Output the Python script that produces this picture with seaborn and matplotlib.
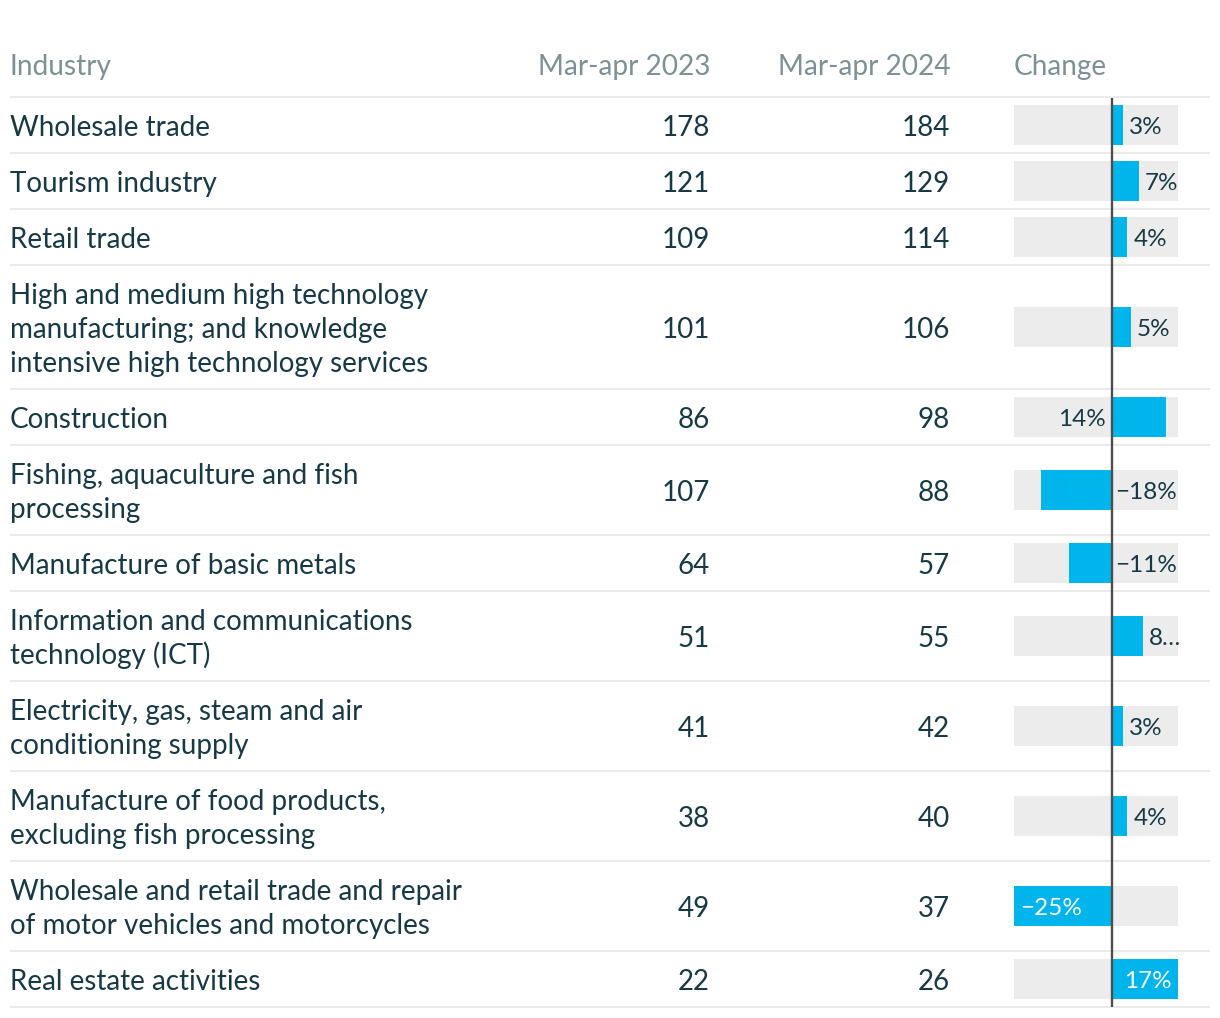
import matplotlib
matplotlib.use("Agg")
import matplotlib.pyplot as plt
import matplotlib.transforms as mtransforms
import seaborn as sns
import numpy as np

# table data
headers = ["Industry", "Mar-apr 2023", "Mar-apr 2024", "Change"]
industries = [
    "Wholesale trade",
    "Tourism industry",
    "Retail trade",
    "High and medium high technology\nmanufacturing; and knowledge\nintensive high technology services",
    "Construction",
    "Fishing, aquaculture and fish\nprocessing",
    "Manufacture of basic metals",
    "Information and communications\ntechnology (ICT)",
    "Electricity, gas, steam and air\nconditioning supply",
    "Manufacture of food products,\nexcluding fish processing",
    "Wholesale and retail trade and repair\nof motor vehicles and motorcycles",
    "Real estate activities",
]
values_2023 = [178, 121, 109, 101, 86, 107, 64, 51, 41, 38, 49, 22]
values_2024 = [184, 129, 114, 106, 98, 88, 57, 55, 42, 40, 37, 26]
change_pct = [3, 7, 4, 5, 14, -18, -11, 8, 3, 4, -25, 17]
change_labels = ["3%", "7%", "4%", "5%", "14%", "\u221218%", "\u221211%", "8\u2026",
                 "3%", "4%", "\u221225%", "17%"]
# where each bar label sits: after the bar end, across the zero line, or inside
label_side = ["end", "end", "end", "end", "zero", "zero", "zero", "end",
              "end", "end", "inside", "inside"]

DARK = "#163945"
GREY_TXT = "#7c9197"
BLUE = "#00b4ec"
BG = "#ececec"
RULE = "#ebebeb"

sns.set_theme(style="white")
plt.rcParams["font.family"] = ["Lato", "DejaVu Sans"]

W, H = 1220, 1018
fig = plt.figure(figsize=(W / 100, H / 100), dpi=100)
ax = fig.add_axes([0, 0, 1, 1])
ax.set_xlim(0, W)
ax.set_ylim(H, 0)
ax.axis("off")

# row layout (pixels)
top = 97
line_h = 34
n_lines = [s.count("\n") + 1 for s in industries]
heights = [22 + line_h * n for n in n_lines]
edges = np.concatenate([[top], top + np.cumsum(heights)])
centers = (edges[:-1] + edges[1:]) / 2

fs = 20.0
hfs = 20.2
col_2023 = 710
col_2024 = 950
bar_left, bar_right = 1014, 1178
base = 11

ax.text(10, 64 + base, headers[0], fontsize=hfs, color=GREY_TXT, ha="left", va="baseline")
ax.text(col_2023, 64 + base, headers[1], fontsize=hfs, color=GREY_TXT, ha="right", va="baseline")
ax.text(col_2024, 64 + base, headers[2], fontsize=hfs, color=GREY_TXT, ha="right", va="baseline")
ax.text(bar_left, 64 + base, headers[3], fontsize=hfs, color=GREY_TXT, ha="left", va="baseline")

ax.hlines(edges, 10, 1210, color=RULE, lw=1.5)

for i, name in enumerate(industries):
    lines = name.split("\n")
    n = len(lines)
    for k, ln in enumerate(lines):
        y = centers[i] + (k - (n - 1) / 2) * line_h + base
        ax.text(10, y, ln, fontsize=fs, color=DARK, ha="left", va="baseline")
    ax.text(col_2023, centers[i] + base, str(values_2023[i]), fontsize=fs, color=DARK,
            ha="right", va="baseline")
    ax.text(col_2024, centers[i] + base, str(values_2024[i]), fontsize=fs, color=DARK,
            ha="right", va="baseline")

# bar column
bax = fig.add_axes([bar_left / W, 0, (bar_right - bar_left) / W, 1])
lo, hi = min(change_pct), max(change_pct)
n = len(change_pct)
bw = 40 / np.min(np.diff(centers))
sns.barplot(x=[lo] * n, y=centers, orient="h", native_scale=True, width=bw,
            color=BG, saturation=1, ax=bax, errorbar=None)
sns.barplot(x=[hi] * n, y=centers, orient="h", native_scale=True, width=bw,
            color=BG, saturation=1, ax=bax, errorbar=None)
sns.barplot(x=change_pct, y=centers, orient="h", native_scale=True, width=bw,
            color=BLUE, saturation=1, ax=bax, errorbar=None)
for p in bax.patches:
    p.set_linewidth(0)
bax.set_xlim(lo, hi)
bax.set_ylim(H, 0)
bax.axis("off")
bax.vlines(0, edges[0] + 1, edges[-1], color="#4d4d4d", lw=1.7, zorder=5)

def shifted(dx):
    return mtransforms.offset_copy(bax.transData, fig=fig, x=dx, y=0, units="dots")

lfs = 17.5
for i, v in enumerate(change_pct):
    side = label_side[i]
    y = centers[i] + 9
    if side == "end":
        dx, ha, x, col = (6, "left", v, DARK) if v >= 0 else (-6, "right", v, DARK)
    elif side == "zero":
        dx, ha, x, col = (-6, "right", 0, DARK) if v >= 0 else (4, "left", 0, DARK)
    else:
        dx, ha, x, col = (-6, "right", v, "white") if v >= 0 else (6, "left", v, "white")
    bax.text(x, y, change_labels[i], fontsize=lfs, color=col, ha=ha, va="baseline",
             transform=shifted(dx), zorder=6)

fig.savefig("out.png", dpi=100, facecolor="white")
